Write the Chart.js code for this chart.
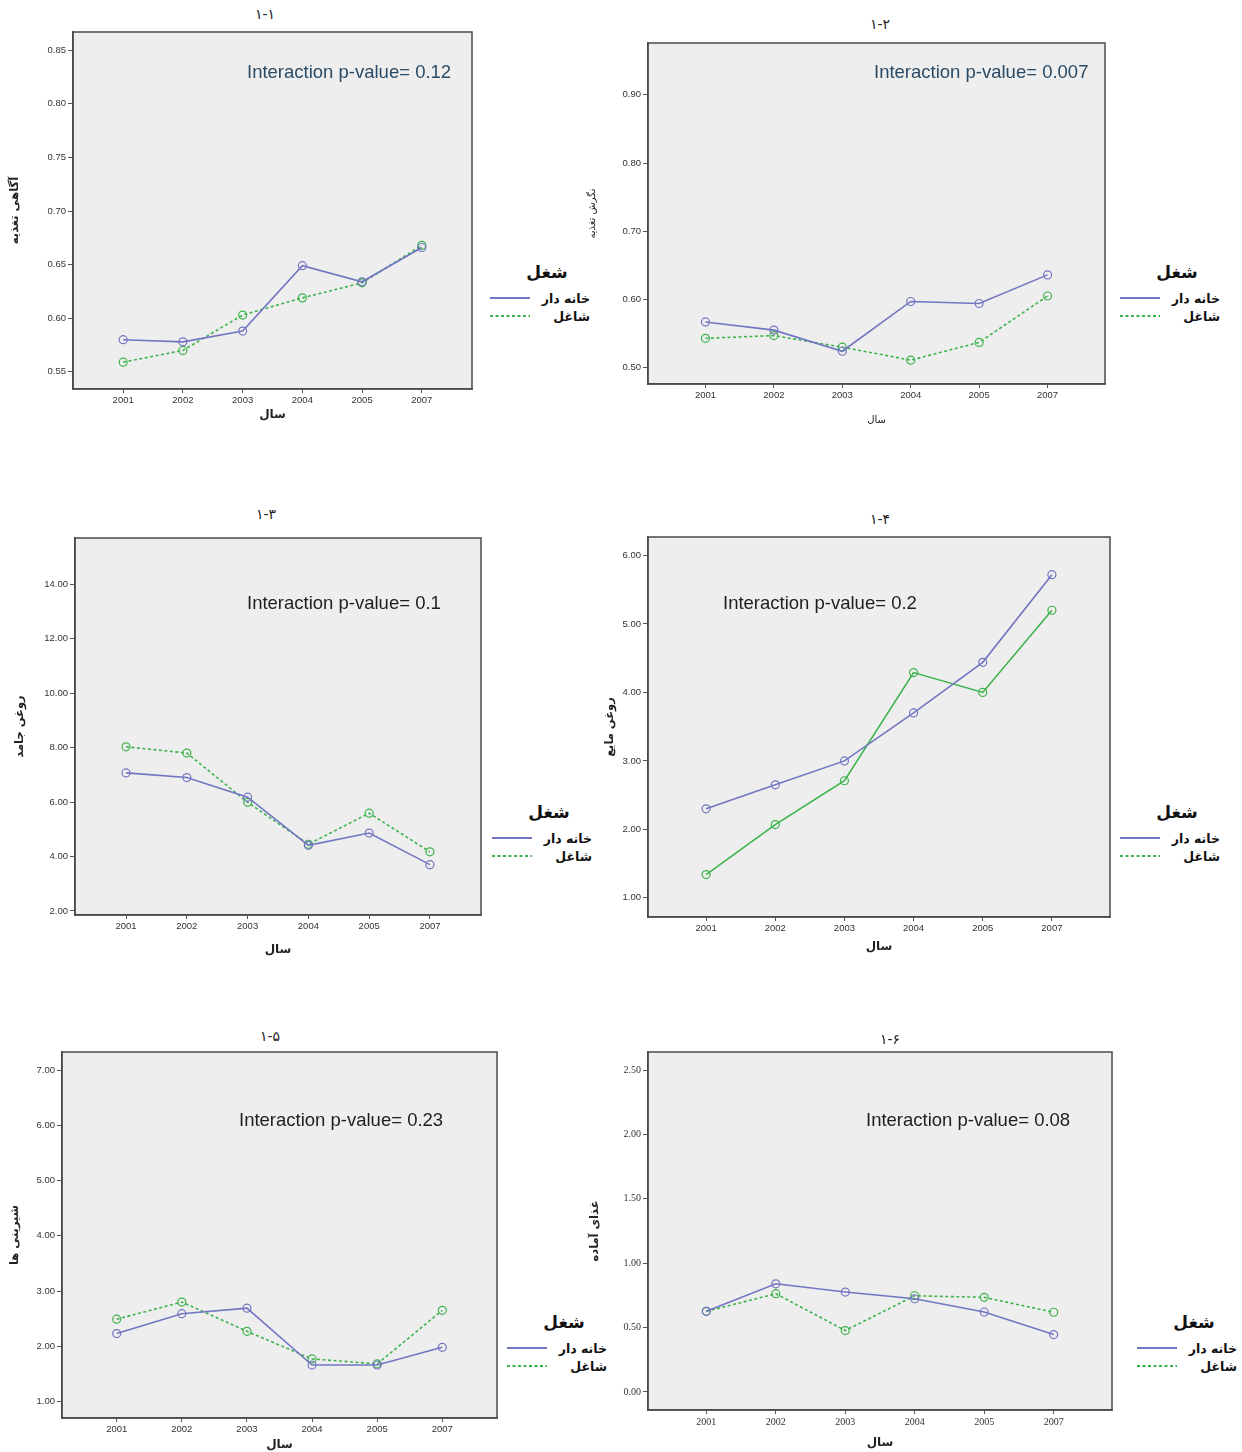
<!DOCTYPE html>
<html>
<head>
<meta charset="utf-8">
<script src="https://cdn.jsdelivr.net/npm/chart.js@4.4.1/dist/chart.umd.min.js"></script>
<style>
  body { margin: 0; width: 1242px; height: 1452px; position: relative; overflow: hidden; background: #fff; }
  canvas { position: absolute; }
  .ttl { position: absolute; font: 14px "DejaVu Sans", sans-serif; color: #222; transform: translateX(-50%); white-space: nowrap; }
  .pv { position: absolute; font: 18.5px "Liberation Sans", Arial, sans-serif; white-space: nowrap; }
  .lg { position: absolute; width: 100px; font-family: "DejaVu Sans", sans-serif; font-weight: bold; color: #111; }
  .lg .head { font-size: 17px; line-height: 20px; height: 20px; text-align: center; padding-left: 14px; margin-bottom: 7px; }
  .lg .row { display: flex; align-items: center; height: 18px; }
  .lg .row span { flex: 1; text-align: right; font-size: 12.5px; }
</style>
</head>
<body>
<script>
// --- data ---
const years = ["2001", "2002", "2003", "2004", "2005", "2007"];
const seriesNames = ["خانه دار", "شاغل"];
const legendTitle = "شغل";
const xTitle = "سال";
const panelTitles = ["۱-۱", "۱-۲", "۱-۳", "۱-۴", "۱-۵", "۱-۶"];
const yTitles = ["آگاهی تغذیه", "نگرش تغذیه", "روغن جامد", "روغن مایع", "شیرینی ها", "غذای آماده"];
const pValues = ["0.12", "0.007", "0.1", "0.2", "0.23", "0.08"];

const home1 = [0.580, 0.578, 0.588, 0.649, 0.634, 0.666];
const emp1  = [0.559, 0.570, 0.603, 0.619, 0.633, 0.668];
const home2 = [0.567, 0.555, 0.524, 0.597, 0.594, 0.636];
const emp2  = [0.543, 0.547, 0.530, 0.511, 0.537, 0.605];
const home3 = [7.07, 6.90, 6.18, 4.41, 4.86, 3.70];
const emp3  = [8.03, 7.80, 5.99, 4.45, 5.59, 4.17];
const home4 = [2.30, 2.65, 3.00, 3.70, 4.44, 5.72];
const emp4  = [1.34, 2.07, 2.71, 4.29, 4.00, 5.20];
const home5 = [2.23, 2.59, 2.69, 1.66, 1.66, 1.98];
const emp5  = [2.49, 2.80, 2.27, 1.77, 1.68, 2.65];
const home6 = [0.626, 0.840, 0.776, 0.724, 0.621, 0.446];
const emp6  = [0.626, 0.763, 0.477, 0.747, 0.735, 0.619];

const yTicks1 = [0.55, 0.60, 0.65, 0.70, 0.75, 0.80, 0.85];
const yTicks2 = [0.50, 0.60, 0.70, 0.80, 0.90];
const yTicks3 = [2, 4, 6, 8, 10, 12, 14];
const yTicks4 = [1, 2, 3, 4, 5, 6];
const yTicks5 = [1, 2, 3, 4, 5, 6, 7];
const yTicks6 = [0, 0.5, 1, 1.5, 2, 2.5];

// --- layout / styling ---
const BLUE = "#7276c2";
const GREEN = "#3db34c";
const Y_AXIS_W = 70, X_AXIS_H = 46, PAD = 8;
const sansTicks = { family: "Liberation Sans, Arial, sans-serif", size: 9.5 };
const serifTicks = { family: "Liberation Serif, serif", size: 10 };

const panels = [
  { box: { l: 73, r: 472, t: 32, b: 389 }, yRange: [0.534, 0.867], yTicks: yTicks1, home: home1, emp: emp1,
    yTitleX: 15, xTitleY: 415, bold: true, tickFont: sansTicks, empDash: true,
    title: [265, 15], pv: [247, 72, "#2a4b66"], legend: [490, 262] },
  { box: { l: 648, r: 1105, t: 43, b: 384 }, yRange: [0.476, 0.976], yTicks: yTicks2, home: home2, emp: emp2,
    yTitleX: 592, xTitleY: 420, bold: false, tickFont: sansTicks, empDash: true,
    title: [880, 25], pv: [874, 72, "#2a4b66"], legend: [1120, 262] },
  { box: { l: 75, r: 481, t: 538, b: 915 }, yRange: [1.85, 15.7], yTicks: yTicks3, home: home3, emp: emp3,
    yTitleX: 20, xTitleY: 950, bold: true, tickFont: sansTicks, empDash: true,
    title: [266, 515], pv: [247, 603, "#1e1e1e"], legend: [492, 802] },
  { box: { l: 648, r: 1110, t: 537, b: 917 }, yRange: [0.72, 6.27], yTicks: yTicks4, home: home4, emp: emp4,
    yTitleX: 610, xTitleY: 947, bold: true, tickFont: sansTicks, empDash: false,
    title: [880, 520], pv: [723, 603, "#1e1e1e"], legend: [1120, 802] },
  { box: { l: 62, r: 497, t: 1052, b: 1418 }, yRange: [0.70, 7.33], yTicks: yTicks5, home: home5, emp: emp5,
    yTitleX: 15, xTitleY: 1445, bold: true, tickFont: sansTicks, empDash: true,
    title: [270, 1037], pv: [239, 1120, "#1e1e1e"], legend: [507, 1312] },
  { box: { l: 648, r: 1112, t: 1052, b: 1410 }, yRange: [-0.14, 2.64], yTicks: yTicks6, home: home6, emp: emp6,
    yTitleX: 595, xTitleY: 1443, bold: true, tickFont: serifTicks, empDash: true,
    title: [890, 1040], pv: [866, 1120, "#1e1e1e"], legend: [1137, 1312] }
];

// grey plot area with a full frame, like the SPSS output
const plotFrame = {
  id: "plotFrame",
  beforeDraw(chart) {
    const { ctx, chartArea: a } = chart;
    ctx.save();
    ctx.fillStyle = "#eeeeee";
    ctx.fillRect(a.left, a.top, a.width, a.height);
    ctx.restore();
  },
  beforeDatasetsDraw(chart) {
    const { ctx, chartArea: a } = chart;
    ctx.save();
    ctx.strokeStyle = "#4a4a4a";
    ctx.lineWidth = 1.5;
    ctx.strokeRect(a.left, a.top, a.width, a.height);
    ctx.restore();
  }
};

function addDiv(cls, html, style) {
  const d = document.createElement("div");
  d.className = cls;
  d.innerHTML = html;
  Object.assign(d.style, style);
  document.body.appendChild(d);
  return d;
}

function lineSample(color, dashed) {
  return `<svg width="44" height="6"><line x1="0" y1="3" x2="40" y2="3" stroke="${color}" stroke-width="2"${dashed ? ' stroke-dasharray="3,2.5"' : ""}/></svg>`;
}

function toPoints(values) {
  return values.map((v, i) => ({ x: i, y: v }));
}

panels.forEach((p, idx) => {
  const { l, r, t, b } = p.box;
  const cl = l - Y_AXIS_W, ct = t - PAD;
  const cw = r - l + Y_AXIS_W + PAD, ch = b - t + X_AXIS_H + PAD;

  const canvas = document.createElement("canvas");
  canvas.width = cw;
  canvas.height = ch;
  canvas.style.left = cl + "px";
  canvas.style.top = ct + "px";
  document.body.appendChild(canvas);

  const titleFont = { family: "DejaVu Sans, sans-serif", size: p.bold ? 11.5 : 10, weight: p.bold ? "bold" : "normal" };
  const xTitleFont = { family: "DejaVu Sans, sans-serif", size: p.bold ? 12 : 10, weight: p.bold ? "bold" : "normal" };
  const yLh = titleFont.size * 1.2, xLh = xTitleFont.size * 1.2;

  new Chart(canvas.getContext("2d"), {
    type: "line",
    data: {
      datasets: [
        {
          label: seriesNames[0],
          data: toPoints(p.home),
          borderColor: BLUE,
          borderWidth: 1.6,
          pointRadius: 4,
          pointBorderWidth: 1.2,
          pointBorderColor: BLUE,
          pointBackgroundColor: "rgba(0,0,0,0)",
          tension: 0
        },
        {
          label: seriesNames[1],
          data: toPoints(p.emp),
          borderColor: GREEN,
          borderWidth: 1.6,
          borderDash: p.empDash ? [3, 2.5] : [],
          pointRadius: 4,
          pointBorderWidth: 1.2,
          pointBorderColor: GREEN,
          pointBackgroundColor: "rgba(0,0,0,0)",
          tension: 0
        }
      ]
    },
    options: {
      responsive: false,
      animation: false,
      layout: { padding: { left: 0, top: PAD, right: PAD, bottom: 0 } },
      plugins: { legend: { display: false }, tooltip: { enabled: false } },
      scales: {
        x: {
          type: "linear",
          min: -0.84,
          max: years.length - 1 + 0.84,
          afterBuildTicks: s => { s.ticks = years.map((_, i) => ({ value: i })); },
          afterFit: s => { s.height = X_AXIS_H; },
          ticks: { callback: v => years[v], color: "#333", font: p.tickFont, padding: 2, maxRotation: 0 },
          grid: { drawOnChartArea: false, drawTicks: true, tickLength: 4, color: "#555" },
          border: { display: true, color: "#4a4a4a", width: 1.5 },
          title: {
            display: true, text: xTitle, color: "#222", font: xTitleFont,
            padding: { top: 0, bottom: (b + X_AXIS_H) - p.xTitleY - xLh / 2 }
          }
        },
        y: {
          type: "linear",
          min: p.yRange[0],
          max: p.yRange[1],
          afterBuildTicks: s => { s.ticks = p.yTicks.map(v => ({ value: v })); },
          afterFit: s => { s.width = Y_AXIS_W; },
          ticks: { callback: v => Number(v).toFixed(2), color: "#333", font: p.tickFont, padding: 2 },
          grid: { drawOnChartArea: false, drawTicks: true, tickLength: 5, color: "#555" },
          border: { display: true, color: "#4a4a4a", width: 1.5 },
          title: {
            display: true, text: yTitles[idx], color: "#222", font: titleFont,
            padding: { top: p.yTitleX - cl - yLh / 2, bottom: 0 }
          }
        }
      }
    },
    plugins: [plotFrame]
  });

  addDiv("ttl", panelTitles[idx], { left: p.title[0] + "px", top: (p.title[1] - 9) + "px" });
  addDiv("pv", "Interaction p-value= " + pValues[idx],
    { left: p.pv[0] + "px", top: (p.pv[1] - 11) + "px", color: p.pv[2] });
  addDiv("lg",
    `<div class="head">${legendTitle}</div>` +
    `<div class="row">${lineSample(BLUE, false)}<span>${seriesNames[0]}</span></div>` +
    `<div class="row">${lineSample(GREEN, true)}<span>${seriesNames[1]}</span></div>`,
    { left: p.legend[0] + "px", top: p.legend[1] + "px" });
});
</script>
</body>
</html>
